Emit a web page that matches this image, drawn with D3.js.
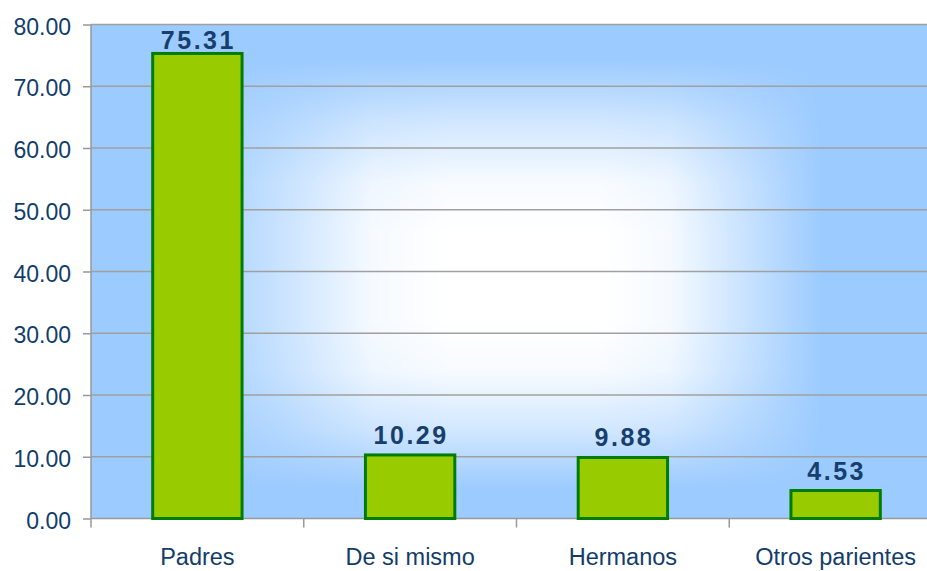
<!DOCTYPE html>
<html>
<head>
<meta charset="utf-8">
<script src="https://cdn.jsdelivr.net/npm/d3@7"></script>
<style>
  body { margin: 0; background: #fff; }
  svg { display: block; }
  svg text { font-family: "Liberation Sans", Arial, sans-serif; }
</style>
</head>
<body>
<svg id="chart" width="927" height="571"></svg>
<script>
// data
let categories = ["Padres", "De si mismo", "Hermanos", "Otros parientes"];
let values = [75.31, 10.29, 9.88, 4.53];
let yTicks = [0, 10, 20, 30, 40, 50, 60, 70, 80];

let svg = d3.select("#chart");
let pLeft = 91, pRight = 942, pTop = 24.5, pBottom = 518.5; // plot box (right edge runs off the page)

let xScale = d3.scaleBand()
    .domain(categories)
    .range([pLeft, pRight])
    .paddingInner(0.58)
    .paddingOuter(0.29);

let yScale = d3.scaleLinear()
    .domain([0, 80])
    .range([pBottom, pTop]);

// background: blue box with a white core, faded out horizontally and vertically
let defs = svg.append("defs");
let hGrad = defs.append("linearGradient").attr("id", "hg").attr("x1", 0).attr("x2", 1).attr("y1", 0).attr("y2", 0);
[[0, 0], [0.10, 0], [0.22, 0.45], [0.33, 0.9], [0.42, 1], [0.6, 1], [0.68, 0.9], [0.76, 0.5], [0.86, 0], [1, 0]]
    .forEach(s => hGrad.append("stop").attr("offset", s[0]).attr("stop-color", "#fff").attr("stop-opacity", s[1]));
let vGrad = defs.append("linearGradient").attr("id", "vg").attr("x1", 0).attr("x2", 0).attr("y1", 0).attr("y2", 1);
[[0, 0], [0.07, 0], [0.2, 0.55], [0.32, 0.92], [0.42, 1], [0.6, 1], [0.7, 0.92], [0.82, 0.55], [0.94, 0], [1, 0]]
    .forEach(s => vGrad.append("stop").attr("offset", s[0]).attr("stop-color", "#fff").attr("stop-opacity", s[1]));

defs.append("mask").attr("id", "mh")
    .append("rect")
    .attr("x", pLeft).attr("y", pTop)
    .attr("width", pRight - pLeft).attr("height", pBottom - pTop)
    .attr("fill", "url(#hg)");
defs.append("mask").attr("id", "mv")
    .append("rect")
    .attr("x", pLeft).attr("y", pTop)
    .attr("width", pRight - pLeft).attr("height", pBottom - pTop)
    .attr("fill", "url(#vg)");

svg.append("rect")
    .attr("x", pLeft).attr("y", pTop)
    .attr("width", pRight - pLeft).attr("height", pBottom - pTop)
    .attr("fill", "#9ccbff");
svg.append("g").attr("mask", "url(#mv)")
    .append("rect")
    .attr("mask", "url(#mh)")
    .attr("x", pLeft).attr("y", pTop)
    .attr("width", pRight - pLeft).attr("height", pBottom - pTop)
    .attr("fill", "#ffffff");

// gridlines
svg.append("g").selectAll("line")
    .data(yTicks.filter(d => d > 0))
    .enter().append("line")
    .attr("x1", pLeft).attr("x2", pRight)
    .attr("y1", d => yScale(d)).attr("y2", d => yScale(d))
    .attr("stroke", "#a0a0a0")
    .attr("stroke-width", 1.5);

// y axis
let yAxis = d3.axisLeft(yScale)
    .tickValues(yTicks)
    .tickFormat(d3.format(".2f"))
    .tickSize(8)
    .tickPadding(12);
let gy = svg.append("g")
    .attr("transform", "translate(" + pLeft + ",0)")
    .call(yAxis);
gy.attr("font-family", null).attr("font-size", null);
gy.select(".domain").attr("stroke", "#999").attr("stroke-width", 1.5).attr("d", "M0," + pTop + "V" + pBottom);
gy.selectAll(".tick line").attr("stroke", "#999").attr("stroke-width", 1.5);
gy.selectAll(".tick text")
    .attr("fill", "#123d6b")
    .style("font-size", "23px")
    .attr("dy", "0.42em");

// x axis: baseline + separators
svg.append("line")
    .attr("x1", pLeft).attr("x2", pRight)
    .attr("y1", pBottom).attr("y2", pBottom)
    .attr("stroke", "#999").attr("stroke-width", 1.5);

let step = xScale.step();
let seps = categories.map(c => xScale(c) - (step - xScale.bandwidth()) / 2);
svg.append("g").selectAll("line")
    .data(seps)
    .enter().append("line")
    .attr("x1", d => d).attr("x2", d => d)
    .attr("y1", pBottom).attr("y2", pBottom + 9)
    .attr("stroke", "#999").attr("stroke-width", 1.5);

svg.append("g").selectAll("text")
    .data(categories)
    .enter().append("text")
    .attr("x", d => xScale(d) + xScale.bandwidth() / 2)
    .attr("y", 565)
    .attr("text-anchor", "middle")
    .attr("fill", "#123d6b")
    .style("font-size", "23.5px")
    .text(d => d);

// bars
svg.append("g").selectAll("rect")
    .data(values)
    .enter().append("rect")
    .attr("x", (d, i) => xScale(categories[i]))
    .attr("y", d => yScale(d))
    .attr("width", xScale.bandwidth())
    .attr("height", d => pBottom - yScale(d))
    .attr("fill", "#99cc00")
    .attr("stroke", "#007c00")
    .attr("stroke-width", 3);

// value labels (kept inside the plot box)
svg.append("g").selectAll("text")
    .data(values)
    .enter().append("text")
    .attr("x", (d, i) => xScale(categories[i]) + xScale.bandwidth() / 2 + 1)
    .attr("y", d => Math.max(yScale(d) - 11, pTop + 24.5))
    .attr("text-anchor", "middle")
    .attr("fill", "#173f6e")
    .style("font-size", "25px")
    .style("font-weight", "bold")
    .style("letter-spacing", "2.5px")
    .text(d => d.toFixed(2));
</script>
</body>
</html>
